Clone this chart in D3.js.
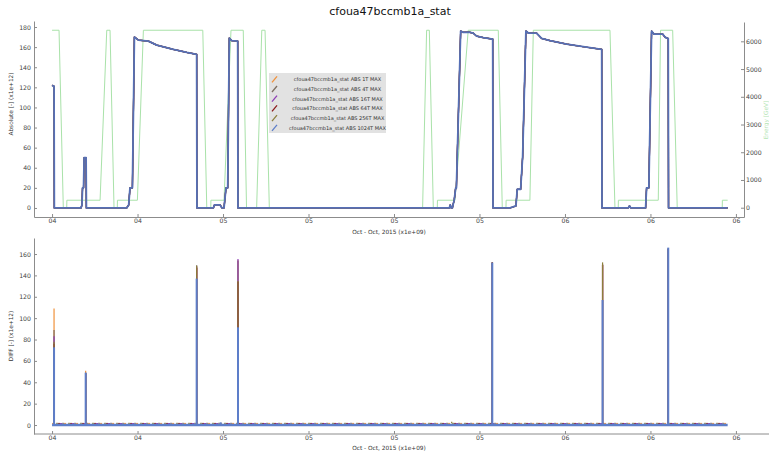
<!DOCTYPE html>
<html>
<head>
<meta charset="utf-8">
<script src="https://cdn.jsdelivr.net/npm/d3@7"></script>
<style>
  body { margin:0; background:#fff; }
  svg { display:block; font-family:"DejaVu Sans", sans-serif; }
</style>
</head>
<body>
<svg id="viz" width="769" height="453"></svg>
<script>
// series of the stat
const seriesNames = ["1T", "4T", "16T", "64T", "256T", "1024T"]
const seriesColors = ["#f0913a", "#7d6f62", "#8e3fb5", "#8b1a1a", "#8c7f3c", "#5d7ec9"]

// time in hours since 2015-10-04 00:00 UTC
const absHours = [12.00, 12.14, 12.16, 14.03, 14.10, 14.14, 14.21, 14.25, 14.39, 14.41,
  17.24, 17.38, 17.47, 17.64, 17.78, 18.06, 18.76, 19.35, 20.51, 21.45, 22.15, 22.17,
  23.32, 23.40, 23.79, 23.93, 24.07, 24.21, 24.33, 24.44, 24.61, 25.03, 25.05,
  39.88, 39.95, 40.02, 40.10, 40.16, 40.23, 40.33, 40.38, 40.68, 40.86, 41.26, 41.56, 41.80, 42.27, 42.93, 42.95,
  44.14, 44.56, 44.65, 44.89, 45.03, 45.26, 45.43, 46.01, 46.36, 46.95, 48.12, 49.28, 50.58, 50.60,
  52.44, 52.53, 52.63, 53.66, 53.73, 53.89, 54.08, 54.25, 54.86, 55.02, 55.25, 55.27, 59.42]
const absValues = [122, 121, 0, 0, 3, 20, 20, 50, 50, 0,
  0, 3, 20, 20, 170, 167, 166, 162, 157.8, 154.8, 152.8, 0,
  0, 3, 3, 0, 0, 20, 20, 169, 166.5, 166, 0,
  0, 3, 0, 0, 4, 8, 20, 20, 176, 174.7, 175, 174, 171, 169.4, 168, 0,
  0, 2, 18.6, 18.6, 51, 176, 174, 174, 168.7, 166.4, 163, 160.4, 157.8, 0,
  0, 2, 0, 0, 20, 20, 176, 173, 173, 170, 168.5, 0, 0]

const energyHours = [12.00, 12.49, 12.79, 13.03, 13.04, 15.37, 15.84, 16.07, 16.35, 16.58, 16.59,
  17.99, 18.41, 22.58, 22.86, 23.14, 23.15, 24.07, 24.56, 25.42, 25.65, 26.36, 26.72, 26.95, 27.25,
  38.01, 38.29, 38.48, 38.76, 39.04, 39.05, 40.28, 41.21, 43.32, 43.60, 43.86, 43.87,
  45.54, 45.78, 51.16, 51.51, 51.74, 51.75, 54.55, 54.71, 55.56, 55.88, 59.04, 59.05, 59.42]
const energyValues = [6400, 6400, 0, 0, 270, 270, 6400, 6400, 0, 0, 270,
  270, 6400, 6400, 0, 0, 270, 270, 6400, 6400, 0, 0, 6400, 6400, 0,
  0, 6400, 6400, 0, 0, 270, 270, 6400, 6400, 0, 0, 270,
  270, 6400, 6400, 0, 0, 270, 270, 6400, 6400, 0, 0, 270, 270]

// diff spikes
const spikeHours = [12.14, 14.36, 22.15, 23.84, 25.05, 40.05, 42.90, 50.64, 55.25]
const diff1T    = [109, 50.8, 148, 0, 154, 0, 152.5, 150, 165]
const diff4T    = [89, 49, 149.4, 0, 154, 0, 152, 150, 165]
const diff16T   = [83, 48.5, 148, 0, 155.3, 0, 152, 150, 165]
const diff64T   = [76, 48.5, 147, 0, 134, 0, 152, 150, 165]
const diff256T  = [78, 48.5, 149, 0, 134.7, 3, 152, 152.2, 165]
const diff1024T = [72.7, 49, 137, 2.5, 91.4, 0, 152, 117, 166]
const diffFloor = [1.5, 1.6, 1.4, 1.5, 1.6, 0]

const absTicks = [0, 20, 40, 60, 80, 100, 120, 140, 160, 180]
const energyTicks = [0, 1000, 2000, 3000, 4000, 5000, 6000]
const diffTicks = [0, 20, 40, 60, 80, 100, 120, 140, 160]

const diffSeries = [diff1T, diff4T, diff16T, diff64T, diff256T, diff1024T]

const t0 = Date.UTC(2015, 9, 4)
const toDate = h => new Date(t0 + h * 3600e3)

var svg = d3.select("svg#viz")
const AXIS = '#8c8c8c'
const LAST = seriesNames.length - 1

const x = d3.scaleUtc().domain([toDate(10.733), toDate(60.567)]).range([34, 744])
const yTop = d3.scaleLinear().domain([-9, 186]).range([217, 21])
const yE = d3.scaleLinear().domain([-335, 6697]).range([217, 22])
const yDiff = d3.scaleLinear().domain([-8.4, 175]).range([434, 238])

let styleAxis = function(g) {
    g.attr('font-family', null).attr('font-size', null)
    g.selectAll('path.domain').attr('stroke', AXIS)
    g.selectAll('.tick line').attr('stroke', AXIS)
    g.selectAll('.tick text').attr('fill', '#444').attr('font-size', 6.2)
}

let xAxis = d3.axisBottom(x)
    .ticks(d3.utcHour.every(6))
    .tickFormat(d3.utcFormat('%d'))
    .tickSize(-3).tickSizeOuter(0).tickPadding(2)

// ---------- top panel
const topPanel = svg.append('g')

topPanel.append('g').attr('transform', 'translate(0,217)').call(xAxis).call(styleAxis)
topPanel.append('g').attr('transform', 'translate(34,0)')
    .call(d3.axisLeft(yTop).tickValues(absTicks).tickSize(-3).tickSizeOuter(0).tickPadding(3))
    .call(styleAxis)
topPanel.append('g').attr('transform', 'translate(744,0)')
    .call(d3.axisRight(yE).tickValues(energyTicks).tickFormat(d3.format('d'))
        .tickSize(-3).tickSizeOuter(0).tickPadding(2))
    .call(styleAxis)

let energyLine = d3.line().x((d, i) => x(toDate(energyHours[i]))).y(d => yE(d))
topPanel.append('path')
    .attr('d', energyLine(energyValues))
    .attr('fill', 'none')
    .attr('stroke', '#a9e2a9')
    .attr('stroke-width', 1)

let absLine = d3.line().x((d, i) => x(toDate(absHours[i]))).y(d => yTop(d))
// all six thresholds give the same absolute curve, 1024T is drawn last
topPanel.selectAll('path.abs')
    .data(seriesNames)
    .join('path')
    .attr('class', 'abs')
    .attr('d', absLine(absValues))
    .attr('fill', 'none')
    .attr('stroke', (d, i) => i == LAST ? '#5670b6' : seriesColors[i])
    .attr('stroke-width', (d, i) => i == LAST ? 1.8 : 1.2)
    .attr('stroke-linejoin', 'round')

topPanel.append('text').attr('x', 390).attr('y', 15).attr('text-anchor', 'middle')
    .attr('font-size', 11).attr('fill', '#111').text('cfoua47bccmb1a_stat')
topPanel.append('text').attr('x', 389).attr('y', 234).attr('text-anchor', 'middle')
    .attr('font-size', 5.8).attr('fill', '#333').text('Oct - Oct, 2015 (x1e+09)')
topPanel.append('text').attr('transform', 'translate(13,104) rotate(-90)').attr('text-anchor', 'middle')
    .attr('font-size', 5.8).attr('fill', '#333').text('Absolute [-] (x1e+12)')
topPanel.append('text').attr('transform', 'translate(768,120) rotate(-90)').attr('text-anchor', 'middle')
    .attr('font-size', 5.8).attr('fill', '#b4e4b4').text('Energy [GeV]')

// legend
const legend = topPanel.append('g')
legend.append('rect').attr('x', 269).attr('y', 73).attr('width', 117).attr('height', 60).attr('fill', '#e2e2e2')
seriesNames.forEach((s, i) => {
    let yy = 79.3 + i * 9.7
    legend.append('line')
        .attr('x1', 272).attr('y1', yy + 3).attr('x2', 277).attr('y2', yy - 3)
        .attr('stroke', seriesColors[i]).attr('stroke-width', 1.3)
    legend.append('text').attr('x', 337.5).attr('y', yy + 1.8).attr('text-anchor', 'middle')
        .attr('font-size', 5).attr('fill', '#333').text(`cfoua47bccmb1a_stat ABS ${s} MAX`)
})

// ---------- bottom panel
const bottomPanel = svg.append('g')

bottomPanel.append('g').attr('transform', 'translate(0,434)').call(xAxis).call(styleAxis)
    .call(g => g.select('path.domain').remove())
bottomPanel.append('line').attr('x1', 34).attr('x2', 769).attr('y1', 434).attr('y2', 434).attr('stroke', AXIS)
bottomPanel.append('g').attr('transform', 'translate(34,0)')
    .call(d3.axisLeft(yDiff).tickValues(diffTicks).tickSize(-3).tickSizeOuter(0).tickPadding(3))
    .call(styleAxis)

const xStart = x(toDate(absHours[0]))
const xEnd = x(toDate(absHours[absHours.length - 1]))

// floors
seriesNames.forEach((s, i) => {
    bottomPanel.append('line')
        .attr('x1', xStart).attr('x2', xEnd)
        .attr('y1', yDiff(diffFloor[i])).attr('y2', yDiff(diffFloor[i]))
        .attr('stroke', seriesColors[i])
        .attr('stroke-width', i == LAST ? 2.5 : 1)
        .attr('stroke-dasharray', i == LAST ? null : '2,10')
        .attr('stroke-dashoffset', i * 2)
})

// spikes
diffSeries.forEach((vals, i) => {
    bottomPanel.append('g').selectAll('line')
        .data(vals.map((v, j) => ({ h: spikeHours[j], v: v })).filter(d => d.v > diffFloor[i]))
        .join('line')
        .attr('x1', d => x(toDate(d.h))).attr('x2', d => x(toDate(d.h)))
        .attr('y1', yDiff(diffFloor[i])).attr('y2', d => yDiff(d.v))
        .attr('stroke', seriesColors[i])
        .attr('stroke-width', i == LAST ? 2 : 1.2)
})

bottomPanel.append('text').attr('x', 389).attr('y', 450).attr('text-anchor', 'middle')
    .attr('font-size', 5.8).attr('fill', '#333').text('Oct - Oct, 2015 (x1e+09)')
bottomPanel.append('text').attr('transform', 'translate(13,336) rotate(-90)').attr('text-anchor', 'middle')
    .attr('font-size', 5.8).attr('fill', '#333').text('DIFF [-] (x1e+12)')
</script>
</body>
</html>
